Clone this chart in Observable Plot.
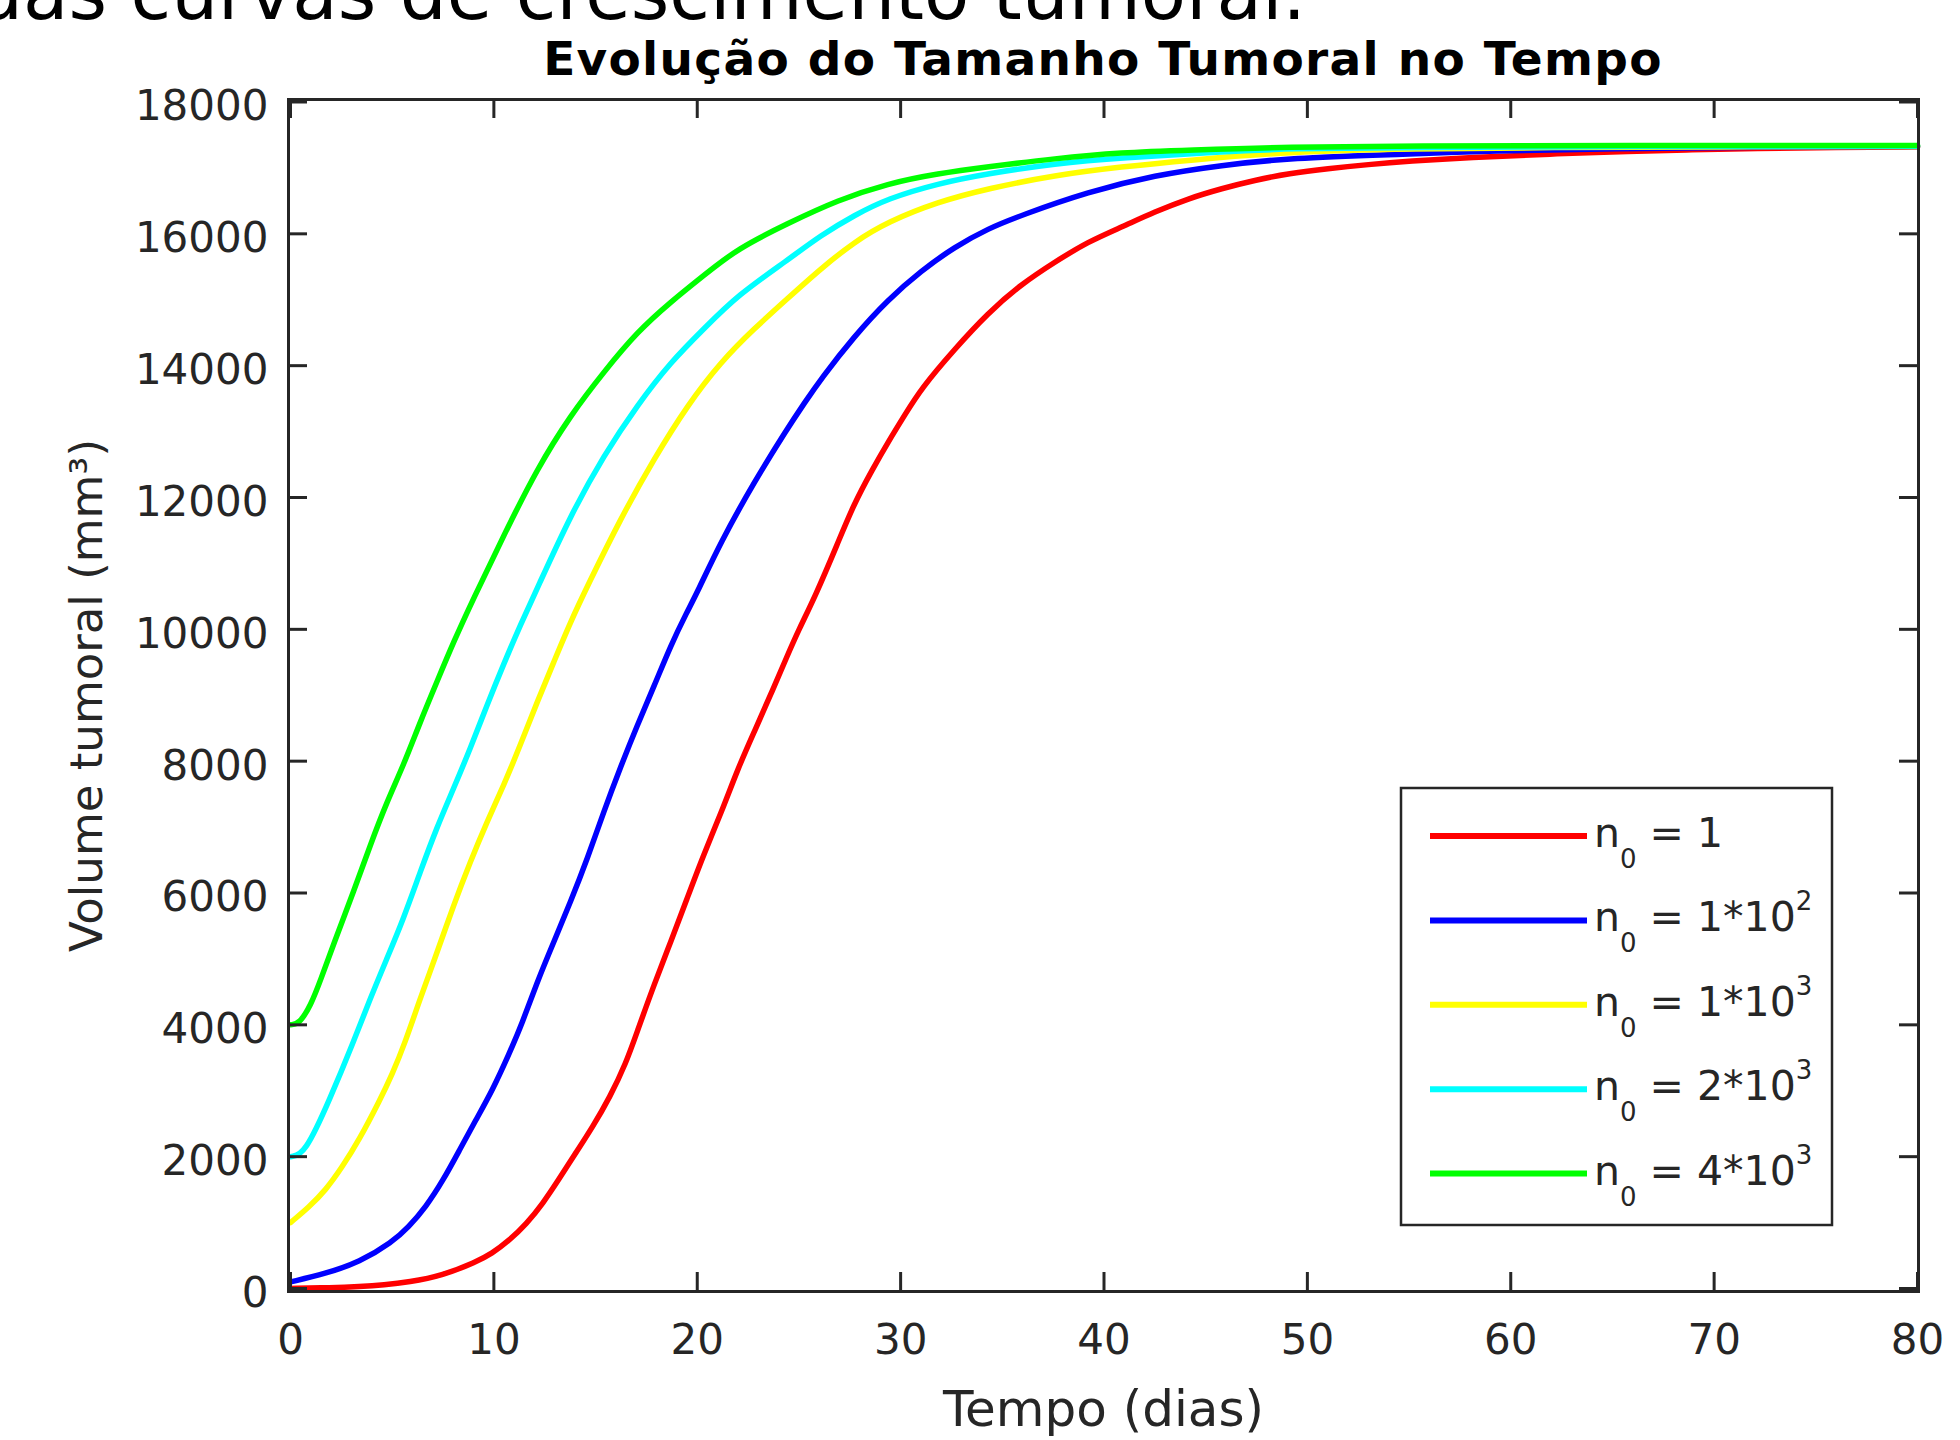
<!DOCTYPE html>
<html><head><meta charset="utf-8">
<script src="https://cdn.jsdelivr.net/npm/d3@7"></script>
<script src="https://cdn.jsdelivr.net/npm/@observablehq/plot@0.6"></script>
<style>
html,body{margin:0;padding:0;background:#fff;}
#chart{position:relative;width:1960px;height:1440px;overflow:hidden;}
#chart text, #chart tspan{white-space:pre;}
</style></head>
<body><div id="chart"></div>
<script>
// ---- data ----
const topText = "Simulação das curvas de crescimento tumoral.";
const title = "Evolução do Tamanho Tumoral no Tempo";
const xLabel = "Tempo (dias)";
const yLabel = "Volume tumoral (mm³)";
const xTicks = [0, 10, 20, 30, 40, 50, 60, 70, 80];
const yTicks = [0, 2000, 4000, 6000, 8000, 10000, 12000, 14000, 16000, 18000];

const seriesColors = ["#ff0000", "#0000ff", "#ffff00", "#00ffff", "#00ff00"];
const legendCoef = ["1", "1*10", "1*10", "2*10", "4*10"];
const legendExp = ["", "2", "3", "3", "3"];

const red_t = [0, 2, 3.4, 4.6, 5.8, 7.5, 9.1, 9.9, 10.75, 11.6, 12.4, 13.2, 14.0, 14.85, 15.7, 16.5, 17.05, 17.9, 18.7, 19.5, 20.3, 21.2, 22.0, 22.8, 23.6, 24.4, 25.0, 25.8, 26.9, 27.7, 28.6, 29.4, 30.2, 31.0, 32.65, 34.3, 35.9, 37.6, 39.2, 40.9, 42.5, 44.15, 45.8, 47.4, 49.1, 51.0, 53.0, 55.0, 58.0, 61.9, 65.9, 68.9, 72, 76, 80];
const red_v = [1, 12, 30, 55, 96, 200, 399, 530, 728, 981, 1285, 1660, 2043, 2447, 2900, 3420, 3900, 4630, 5260, 5917, 6574, 7232, 7889, 8445, 9001, 9580, 10000, 10500, 11300, 11900, 12420, 12850, 13250, 13650, 14250, 14800, 15230, 15576, 15879, 16107, 16334, 16536, 16688, 16814, 16915, 16990, 17052, 17102, 17160, 17210, 17254, 17275, 17295, 17310, 17320];

const blue_t = [0, 1.7, 3.4, 5.0, 5.8, 6.65, 7.5, 8.3, 9.1, 9.95, 10.75, 11.4, 12.13, 12.95, 13.77, 14.6, 15.4, 16.2, 17.05, 17.9, 18.7, 19.5, 20.0, 21.16, 22.8, 24.44, 25.26, 26.08, 27.73, 29.37, 31.01, 32.65, 34.3, 35.94, 39.22, 42.5, 45.79, 49.07, 55, 59, 65, 72, 80];
const blue_v = [100, 223, 399, 702, 930, 1234, 1638, 2094, 2549, 3020, 3560, 4030, 4653, 5260, 5866, 6523, 7232, 7889, 8546, 9153, 9759, 10266, 10560, 11327, 12238, 13050, 13430, 13800, 14450, 15000, 15440, 15800, 16081, 16283, 16637, 16890, 17041, 17150, 17209, 17260, 17295, 17315, 17325];

const yellow_t = [0, 0.9, 1.72, 2.54, 3.36, 4.4, 5.0, 5.6, 6.4, 7.2, 8.0, 8.84, 9.66, 10.49, 11.3, 12.13, 12.95, 13.77, 14.59, 16.23, 17.88, 19.52, 21.16, 22.8, 24.44, 26.08, 27.73, 29.37, 31.83, 34.3, 37.58, 40.86, 44.15, 49.07, 55, 62, 70, 80];
const yellow_v = [1000, 1234, 1487, 1841, 2245, 2860, 3250, 3700, 4420, 5090, 5800, 6473, 7080, 7636, 8243, 8900, 9507, 10114, 10650, 11681, 12591, 13400, 14058, 14564, 15019, 15474, 15879, 16182, 16485, 16688, 16889, 17017, 17117, 17244, 17290, 17310, 17320, 17325];

const cyan_t = [0, 0.7, 1.95, 3.1, 3.92, 4.74, 5.56, 6.38, 7.2, 8.02, 8.84, 9.66, 10.49, 11.3, 12.13, 13.77, 15.41, 17.05, 18.7, 20.34, 21.98, 24.44, 26.08, 27.73, 29.37, 31.83, 34.3, 37.58, 40.86, 45.79, 49.07, 55, 65, 80];
const cyan_v = [2000, 2030, 2882, 3742, 4400, 5006, 5613, 6321, 7000, 7585, 8192, 8849, 9480, 10063, 10620, 11731, 12642, 13400, 14058, 14564, 15069, 15600, 15979, 16283, 16536, 16764, 16915, 17067, 17153, 17244, 17295, 17310, 17325, 17330];

const green_t = [0, 0.45, 1.0, 1.45, 2.28, 3.1, 3.92, 4.74, 5.56, 6.38, 7.2, 8.02, 9.0, 10.49, 12.13, 13.77, 15.41, 17.05, 18.7, 20.34, 21.98, 24.44, 26.9, 29.37, 31.83, 34.3, 37.58, 40.86, 44.15, 49.07, 55, 65, 80];
const green_v = [4000, 4020, 4300, 4653, 5360, 6018, 6726, 7384, 7940, 8597, 9204, 9811, 10470, 11428, 12440, 13249, 13907, 14514, 14969, 15373, 15777, 16157, 16510, 16764, 16915, 17017, 17143, 17234, 17269, 17320, 17335, 17340, 17340];

// ---- build ----
const seriesT = [red_t, blue_t, yellow_t, cyan_t, green_t];
const seriesV = [red_v, blue_v, yellow_v, cyan_v, green_v];
const lineMarks = seriesT.map((ts, k) =>
  Plot.line(ts.map((t, i) => ({t, v: seriesV[k][i]})), {
    x: "t", y: "v", stroke: seriesColors[k], strokeWidth: 5.5, curve: "basis"
  })
);

const W = 1960, H = 1440, ML = 288, MR = 42, MT = 99, MB = 149;
const frameW = W - ML - MR, frameH = H - MT - MB, tickLen = 19;
const axisColor = "#262626";

const chart = Plot.plot({
  width: W, height: H,
  marginLeft: ML, marginRight: MR, marginTop: MT, marginBottom: MB,
  x: {domain: [0, 80], insetLeft: 2, insetRight: 1},
  y: {domain: [0, 18000], insetTop: 2.5, insetBottom: 3},
  style: {fontFamily: "'DejaVu Sans', sans-serif", fontSize: "42px", color: axisColor, background: "#fff"},
  marks: [
    ...lineMarks,
    Plot.frame({stroke: axisColor, strokeWidth: 3}),
    Plot.tickX(xTicks, {x: d => d, insetTop: frameH - tickLen, stroke: axisColor, strokeWidth: 3}),
    Plot.tickX(xTicks, {x: d => d, insetBottom: frameH - tickLen, stroke: axisColor, strokeWidth: 3}),
    Plot.tickY(yTicks, {y: d => d, insetRight: frameW - tickLen, stroke: axisColor, strokeWidth: 3}),
    Plot.tickY(yTicks, {y: d => d, insetLeft: frameW - tickLen, stroke: axisColor, strokeWidth: 3}),
    Plot.axisX({anchor: "bottom", ticks: xTicks, tickSize: 0, tickPadding: 33, label: null, fontSize: 42}),
    Plot.axisY({anchor: "left", ticks: yTicks, tickSize: 0, tickPadding: 20, dy: 5, label: null, tickFormat: d3.format("d"), fontSize: 42}),
    Plot.text([xLabel], {text: d => d, frameAnchor: "bottom", textAnchor: "middle", lineAnchor: "bottom", dy: 134, fontSize: 50, fill: axisColor}),
    Plot.text([yLabel], {text: d => d, frameAnchor: "left", textAnchor: "middle", lineAnchor: "bottom", rotate: -90, dx: -187, fontSize: 45, fill: axisColor})
  ]
});
document.getElementById("chart").appendChild(chart);

const svg = d3.select(chart);
// partially visible line of text above the chart (cut at the top edge, as in the reference)
svg.append("text")
  .attr("x", 1306).attr("y", 19).attr("text-anchor", "end")
  .attr("fill", "#000").style("font-size", "74px")
  .text(topText);
// title
svg.append("text")
  .attr("x", (ML + W - MR) / 2).attr("y", 75).attr("text-anchor", "middle")
  .attr("fill", "#000").style("font-size", "47px").style("font-weight", "bold")
  .style("letter-spacing", "1.3px")
  .text(title);

// legend
const lg = svg.append("g").attr("text-anchor", "start");
lg.append("rect").attr("x", 1401).attr("y", 788).attr("width", 431).attr("height", 437)
  .attr("fill", "#fff").attr("stroke", axisColor).attr("stroke-width", 2.5);
legendCoef.forEach((c, i) => {
  const yy = 836 + i * 84.4;
  lg.append("line").attr("x1", 1430).attr("x2", 1587).attr("y1", yy).attr("y2", yy)
    .attr("stroke", seriesColors[i]).attr("stroke-width", 6);
  const tx = lg.append("text").attr("x", 1594).attr("y", yy + 11).attr("text-anchor", "start")
    .attr("fill", axisColor).style("font-size", "41px");
  tx.append("tspan").text("n");
  tx.append("tspan").attr("dy", 21).style("font-size", "26px").text("0");
  tx.append("tspan").attr("dy", -21).text(" = " + c);
  if (legendExp[i]) tx.append("tspan").attr("dy", -21).style("font-size", "26px").text(legendExp[i]);
});
</script>
</body></html>
